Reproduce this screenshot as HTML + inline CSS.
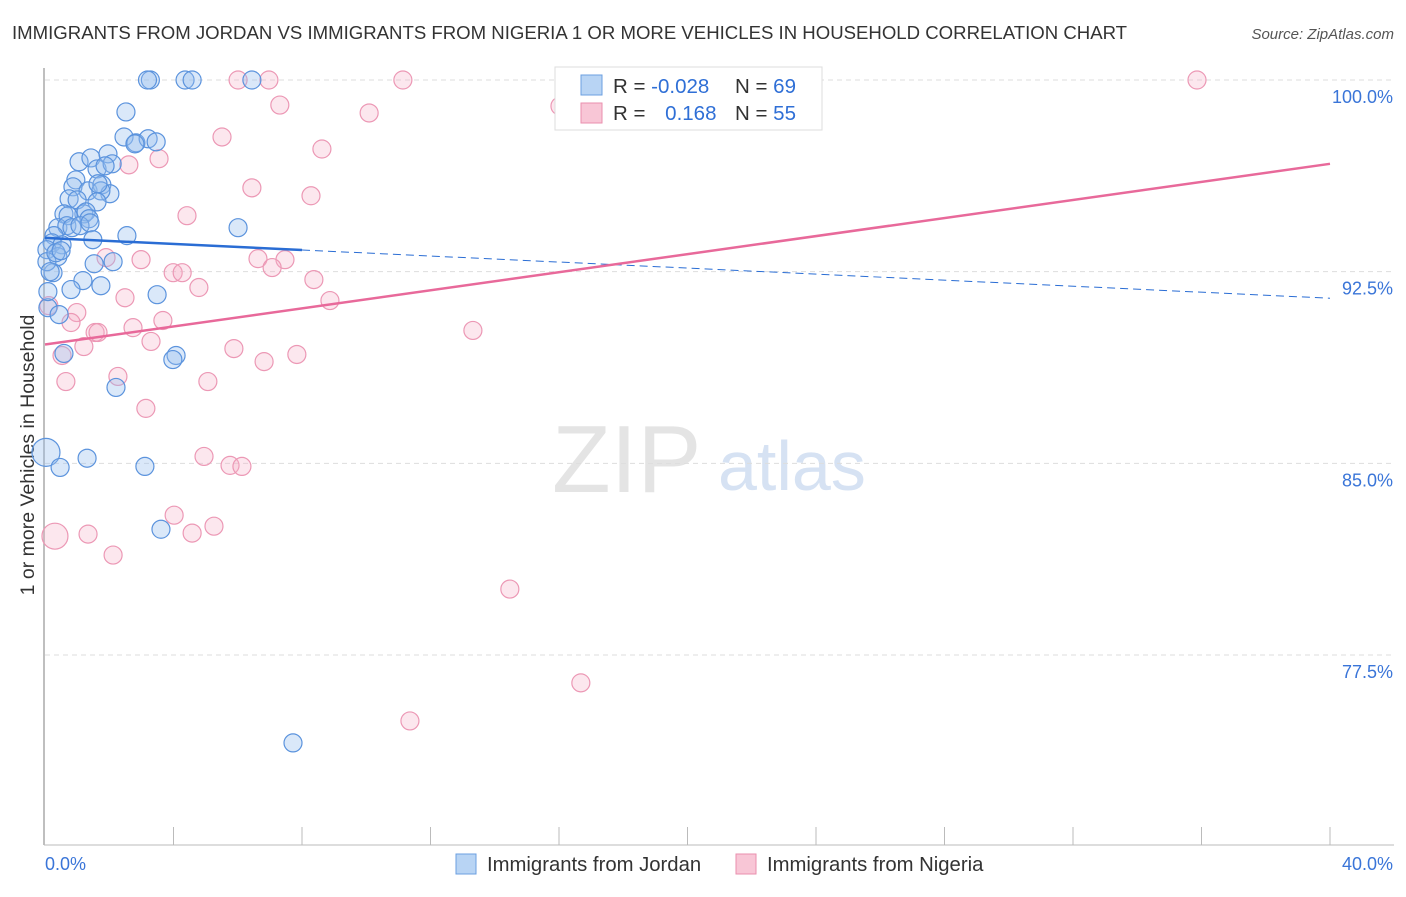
<!DOCTYPE html>
<html><head><meta charset="utf-8"><style>
body{margin:0;background:#fff;font-family:"Liberation Sans",sans-serif}
svg text{font-family:"Liberation Sans",sans-serif}
</style></head><body>
<svg width="1406" height="892" id="c">
<text x="12" y="39" font-size="18.6" fill="#333">IMMIGRANTS FROM JORDAN VS IMMIGRANTS FROM NIGERIA 1 OR MORE VEHICLES IN HOUSEHOLD CORRELATION CHART</text>
<text x="1394" y="39" font-size="15" fill="#555" text-anchor="end" font-style="italic">Source: ZipAtlas.com</text>
<text transform="translate(34,455) rotate(-90)" font-size="19.5" fill="#333" text-anchor="middle">1 or more Vehicles in Household</text>
<text x="552" y="492" font-size="96" fill="#e4e4e4" font-family="Liberation Serif">ZIP</text>
<text x="718" y="490" font-size="70" fill="#d6e2f3">atlas</text>
<g id="grid"></g>
<g id="marks"></g>
<g>
<rect x="555" y="67" width="267" height="63" fill="#fff" stroke="#ddd"/>
<rect x="581" y="75" width="21" height="20" fill="#b8d4f4" stroke="#6b9fe0"/>
<rect x="581" y="103" width="21" height="20" fill="#f8c6d6" stroke="#ea8fae"/>
<text x="613" y="93" font-size="20.5" fill="#333">R = <tspan fill="#2f6fd6">-0.028</tspan></text>
<text x="735" y="93" font-size="20.5" fill="#333">N = <tspan fill="#2f6fd6">69</tspan></text>
<text x="613" y="120" font-size="20.5" fill="#333">R = <tspan fill="#2f6fd6" dx="14">0.168</tspan></text>
<text x="735" y="120" font-size="20.5" fill="#333">N = <tspan fill="#2f6fd6">55</tspan></text>
</g>
<g>
<rect x="456" y="854" width="20" height="20" fill="#b8d4f4" stroke="#6b9fe0"/>
<text x="487" y="871" font-size="20.3" fill="#333">Immigrants from Jordan</text>
<rect x="736" y="854" width="20" height="20" fill="#f8c6d6" stroke="#ea8fae"/>
<text x="767" y="871" font-size="20.3" fill="#333">Immigrants from Nigeria</text>
</g>
</svg>
<script>
const yTicks=[100,92.5,85,77.5];
const xTickLabels=["0.0%","40.0%"];
const jordanX=[3.28,3.19,4.36,4.58,6.44,2.52,2.46,2.83,3.21,3.46,2.80,1.06,1.43,1.96,1.62,2.09,1.87,0.96,0.87,1.34,1.77,2.02,1.74,0.75,1.00,1.62,0.59,1.21,0.72,1.28,1.37,0.40,0.68,0.84,1.09,1.40,6.01,0.28,1.49,2.55,0.22,0.53,0.06,0.40,2.12,1.53,0.25,1.18,1.74,0.81,3.49,0.09,0.44,0.59,4.08,3.98,2.21,0.03,1.31,0.47,3.11,3.61,7.72,0.06,0.09,0.16,0.34,0.50,1.65];
const jordanY=[100,100,100,100,100,98.75,97.77,97.54,97.70,97.58,97.50,96.80,96.95,97.11,96.52,96.72,96.64,96.09,95.82,95.66,95.90,95.55,95.66,95.35,95.31,95.23,94.76,94.76,94.69,94.84,94.57,94.22,94.30,94.22,94.30,94.41,94.22,93.91,93.75,93.91,93.63,93.55,93.36,93.09,92.89,92.81,92.46,92.15,91.95,91.80,91.60,91.09,90.82,89.30,89.22,89.06,87.97,85.43,85.20,84.84,84.88,82.42,74.06,92.89,91.72,92.50,93.24,93.32,95.94];
const nigeriaX=[6.01,6.97,11.14,35.86,7.31,10.09,16.03,5.51,8.62,3.55,2.61,6.44,8.28,4.42,1.90,2.99,6.63,7.47,3.99,4.27,7.07,8.37,4.79,2.49,8.87,0.12,0.99,3.67,0.81,2.74,1.56,1.65,13.32,3.30,1.21,5.88,7.84,6.82,0.53,0.65,5.07,2.27,3.14,4.95,5.76,6.13,0.31,1.34,4.02,4.58,5.26,2.12,14.47,16.68,11.36];
const nigeriaY=[100,100,100,100,99.02,98.71,98.98,97.77,97.30,96.92,96.68,95.78,95.47,94.69,93.05,92.97,93.01,92.97,92.46,92.46,92.66,92.19,91.88,91.48,91.37,91.17,90.90,90.59,90.51,90.31,90.12,90.12,90.20,89.77,89.57,89.49,89.26,88.98,89.22,88.20,88.20,88.40,87.15,85.27,84.92,84.88,82.15,82.23,82.97,82.27,82.54,81.41,80.08,76.41,74.92];
const jordanFit=[93.82,91.46];
const nigeriaFit=[89.65,96.72];
const X0=45,X1=1330,YT=80,YB=655;
const sx=v=>X0+v/40*(X1-X0);
const sy=v=>YT+(100-v)/22.5*(YB-YT);
const NS="http://www.w3.org/2000/svg";
const grid=document.getElementById('grid'),marks=document.getElementById('marks');
function mk(tag,attrs,parent){const e=document.createElementNS(NS,tag);for(const k in attrs)e.setAttribute(k,attrs[k]);parent.appendChild(e);return e;}
const ax=mk('line',{x1:44,y1:68,x2:44,y2:845,stroke:'#aaa','stroke-width':1.5},grid);


const bx=mk('line',{x1:44,y1:845,x2:1394,y2:845,stroke:'#bbb','stroke-width':1},grid);


yTicks.forEach(t=>{
 const l=mk('line',{x1:45,x2:1394,y1:sy(t),y2:sy(t),stroke:'#ddd','stroke-dasharray':'5,4'},grid);
 
 
 const tx=mk('text',{x:1393,y:sy(t)+23,'font-size':18,fill:'#3a75d8','text-anchor':'end'},grid);
 tx.textContent=t.toFixed(1)+'%';
 
 
});
for(let i=1;i<=10;i++){
 const x=sx(i*4);
 const l=mk('line',{x1:x,x2:x,y1:827,y2:845,stroke:'#bbb'},grid);
 
 
}
xTickLabels.forEach((s,i)=>{
 const tx=mk('text',{x:i?1393:45,y:870,'font-size':18,fill:'#3a75d8','text-anchor':i?'end':'start'},grid);
 tx.textContent=s;
 
 
});
const bigN={46:13},bigJ={57:14};
nigeriaX.forEach((v,i)=>{
 const c=mk('circle',{cx:sx(v),cy:sy(nigeriaY[i]),r:bigN[i]||9,fill:'rgba(246,176,198,0.3)',stroke:'#ec98b5','stroke-width':1.2},marks);
 
 
});
jordanX.forEach((v,i)=>{
 const c=mk('circle',{cx:sx(v),cy:sy(jordanY[i]),r:bigJ[i]||9,fill:'rgba(150,190,238,0.35)',stroke:'#5b93dd','stroke-width':1.2},marks);
 
 
});
const jf=v=>jordanFit[0]+(jordanFit[1]-jordanFit[0])*v/40;
const l1=mk('line',{x1:sx(0),y1:sy(jf(0)),x2:sx(8),y2:sy(jf(8)),stroke:'#2a6dd4','stroke-width':2.5},marks);


const l2=mk('line',{x1:sx(8),y1:sy(jf(8)),x2:sx(40),y2:sy(jf(40)),stroke:'#2a6dd4','stroke-width':1,'stroke-dasharray':'8,5'},marks);


const l3=mk('line',{x1:sx(0),y1:sy(nigeriaFit[0]),x2:sx(40),y2:sy(nigeriaFit[1]),stroke:'#e8699a','stroke-width':2.5},marks);


</script>
</body></html>
